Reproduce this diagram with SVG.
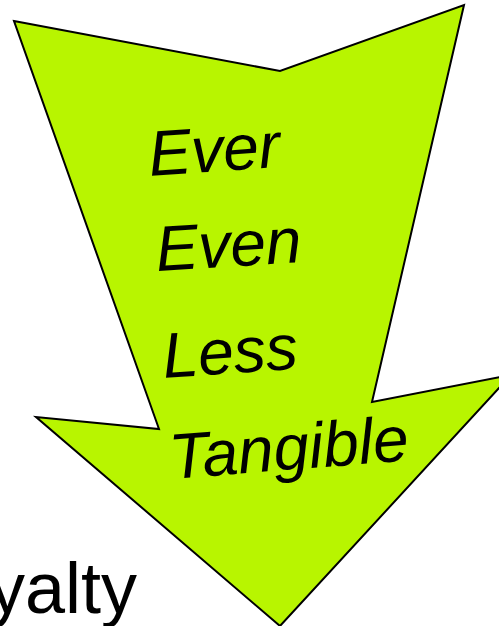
<svg xmlns="http://www.w3.org/2000/svg" width="499" height="626" viewBox="0 0 499 626">
<style>
.arrow{fill:#b8f500;stroke:#000;stroke-width:2;stroke-linejoin:miter}
.lbl{font-family:"Liberation Sans",Arial,sans-serif;font-style:italic;font-size:64px;fill:#000}
.big{font-family:"Liberation Sans",Arial,sans-serif;font-size:72px;fill:#000}
</style>
<rect width="499" height="626" fill="#fff"/>
<g id="arrow">
<polygon class="arrow" points="14,21 280,71 464,5 372,402 511,375 280,626 36,417 159,429"/>
</g>
<g id="labels">
<text class="lbl" x="150" y="176" transform="rotate(-4 150 176)">Ever</text>
<text class="lbl" x="157" y="271" transform="rotate(-3.5 157 271)">Even</text>
<text class="lbl" x="164" y="378" transform="rotate(-4 164 378)">Less</text>
<text class="lbl" x="171" y="479" transform="rotate(-4.5 171 479)">Tangible</text>
</g>
<g id="side-text">
<text class="big" x="-11" y="613">yalty</text>
</g>
</svg>
